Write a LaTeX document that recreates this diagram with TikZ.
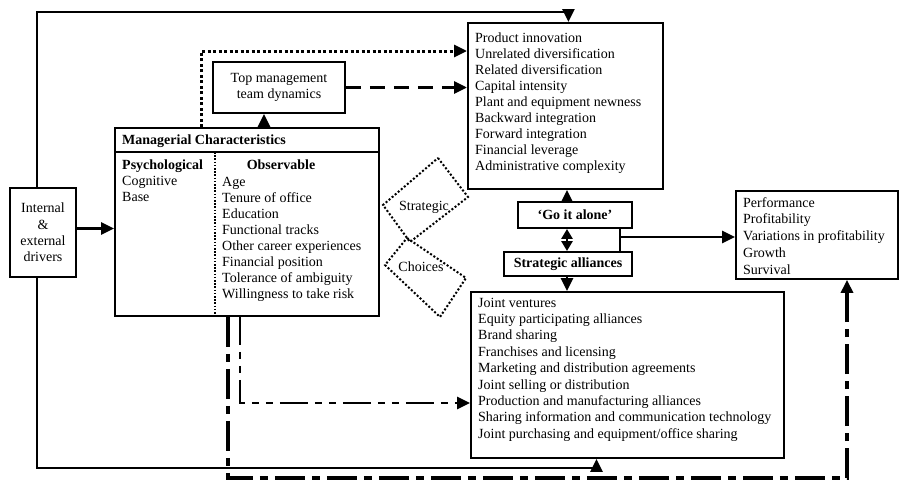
\documentclass[tikz,border=0pt]{standalone}
\usepackage{fontspec}
\setmainfont{Liberation Serif}
\usetikzlibrary{arrows.meta}

\tikzset{
  box/.style={draw, line width=1.9pt, inner sep=0pt},
  txt/.style={inner sep=0pt, anchor=base west},
  conn/.style={line width=2.6pt},
  tip/.style={-{Triangle[length=13pt,width=12pt]}},
  dotln/.style={line width=3pt, dash pattern=on 3pt off 2.5pt},
  dashln/.style={line width=3pt, dash pattern=on 15pt off 9pt},
  ddthin/.style={line width=2.6pt, dash pattern=on 28pt off 7pt on 7pt off 7pt on 7pt off 7pt},
  ddthick/.style={line width=3.6pt, dash pattern=on 30pt off 7pt on 8pt off 7pt},
  diam/.style={line width=2pt, dash pattern=on 2pt off 2pt},
}

\begin{document}
\begin{tikzpicture}[x=1pt, y=-1pt, font=\fontsize{14pt}{16.2pt}\selectfont]
\useasboundingbox (0,0) rectangle (900,482);

% boxes
\node [box, minimum width=66pt, minimum height=89pt, align=center] (drv) at (43,232.5) {Internal\\\&\\external\\drivers};
\node [box, minimum width=264pt, minimum height=188pt, anchor=north west] (mgr) at (114,127) {};
\node [box, minimum width=132pt, minimum height=51pt, align=center] (tmt) at (279,87.5) {Top management\\team dynamics};
\node [box, minimum width=195pt, minimum height=166pt, anchor=north west] (prod) at (467,22) {};
\node [box, minimum width=114pt, minimum height=26pt, font=\fontsize{14pt}{16.2pt}\selectfont\bfseries] (go) at (575,215) {`Go it alone'};
\node [box, minimum width=128pt, minimum height=24pt, font=\fontsize{14pt}{16.2pt}\selectfont\bfseries] (sa) at (568,264) {Strategic alliances};
\node [box, minimum width=313pt, minimum height=166pt, anchor=north west] (ally) at (470,291) {};
\node [box, minimum width=162pt, minimum height=88pt, anchor=north west] (perf) at (735,190) {};

% managerial characteristics
\draw [line width=1.9pt] (mgr.west |- 0,152) -- (mgr.east |- 0,152);
\draw [line width=1.6pt, dash pattern=on 1.6pt off 1.6pt] (215,152) -- (mgr.south -| 215,0);
\node [txt, font=\fontsize{14pt}{16.2pt}\selectfont\bfseries] (mhead) at (122,144) {Managerial Characteristics};
\node [txt, font=\fontsize{14pt}{16.2pt}\selectfont\bfseries] (psy) at (122,169) {Psychological};
\node [txt] (cog) at (122,185) {Cognitive};
\node [txt] (base) at (122,201) {Base};
\node [anchor=base, inner sep=0pt, font=\fontsize{14pt}{16.2pt}\selectfont\bfseries] (obs) at (281,169) {Observable};
\foreach \t [count=\i] in {Age, Tenure of office, Education, Functional tracks,
  Other career experiences, Financial position, Tolerance of ambiguity,
  Willingness to take risk}
  \node [txt] (obs\i) at (222,{186+16*(\i-1)}) {\t};

% lists
\foreach \t [count=\i] in {Product innovation, Unrelated diversification,
  Related diversification, Capital intensity, Plant and equipment newness,
  Backward integration, Forward integration, Financial leverage,
  Administrative complexity}
  \node [txt] (prod\i) at (475,{42+16.1*(\i-1)}) {\t};
\foreach \t [count=\i] in {Joint ventures, Equity participating alliances,
  Brand sharing, Franchises and licensing, Marketing and distribution agreements,
  Joint selling or distribution, Production and manufacturing alliances,
  Sharing information and communication technology,
  Joint purchasing and equipment/office sharing}
  \node [txt] (ally\i) at (478,{307+16.4*(\i-1)}) {\t};
\foreach \t [count=\i] in {Performance, Profitability, Variations in profitability,
  Growth, Survival}
  \node [txt] (perf\i) at (743,{207+16.8*(\i-1)}) {\t};

% strategic choices
\draw [diam] (438,158) -- (468,197) -- (410,242) -- (383,205) -- cycle;
\draw [diam] (407,238) -- (466,278) -- (440,317) -- (385,265) -- cycle;
\node [inner sep=0pt] (strat) at (424,207) {Strategic};
\node [inner sep=0pt] (choi) at (421,267) {Choices};

% connectors
\coordinate (topy) at (0,12);
\coordinate (boty) at (0,468);
\coordinate (midx) at (567,0);
\coordinate (jn) at (620,237);
\coordinate (dotc) at (201,51);
\coordinate (c2) at (240,403);
\coordinate (c3) at (228,478);
\coordinate (c4) at (847,478);

\draw [conn, tip] ([xshift=-6pt]drv.north) |- ([xshift=3pt]prod.north |- topy) -- ([xshift=3pt]prod.north);
\draw [conn, tip] ([xshift=-6pt]drv.south) |- ([xshift=-31pt]ally.south |- boty) -- ([xshift=-31pt]ally.south);
\draw [conn, tip] ([yshift=4pt]drv.east) -- ([yshift=4pt]drv.east -| mgr.west);
\draw [conn, tip] ([xshift=-15pt]tmt.south |- mgr.north) -- ([xshift=-15pt]tmt.south);
\draw [dashln, tip] (tmt.east) -- (tmt.east -| prod.west);
\draw [dotln, tip] (mgr.north -| dotc) |- (dotc -| prod.west);

\draw [conn, tip] (go.north -| midx) -- (prod.south -| midx);
\draw [conn, {Triangle[length=10pt,width=11pt]}-{Triangle[length=10pt,width=11pt]}] (go.south -| midx) -- (sa.north -| midx);
\draw [conn, tip] (sa.south -| midx) -- (ally.north -| midx);
\draw [conn] (go.south -| jn) -- (sa.north -| jn);
\draw [conn, tip] (jn) -- (jn -| perf.west);

\draw [ddthin, tip] (mgr.south -| c2) |- (c2 -| ally.west);
\draw [ddthick, tip] (mgr.south -| c3) -- (c3) -- (c4) -- (c4 |- perf.south);

\end{tikzpicture}
\end{document}
